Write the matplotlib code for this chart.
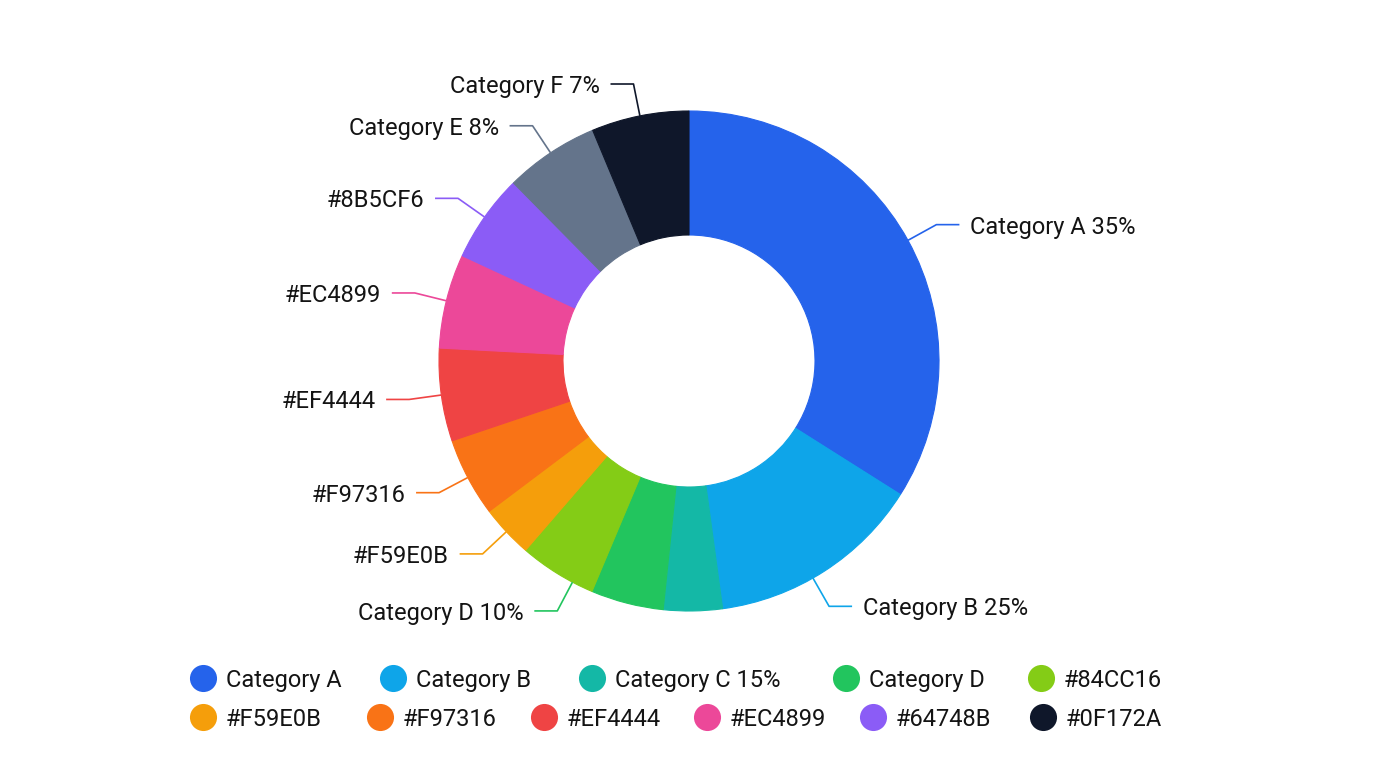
import matplotlib
matplotlib.use("Agg")
import matplotlib.pyplot as plt
import numpy as np

plt.rcParams['font.family'] = ['Roboto', 'DejaVu Sans']

# slice data (clockwise from 12 o'clock)
values = [34, 13.9, 3.8, 4.7, 5.0, 3.4, 5.1, 6.0, 6.1, 5.7, 6.1, 6.3]
colors = ['#2563EB', '#0EA5E9', '#14B8A6', '#22C55E', '#84CC16', '#F59E0B',
          '#F97316', '#EF4444', '#EC4899', '#8B5CF6', '#64748B', '#0F172A']
slice_labels = ['Category A 35%', 'Category B 25%', None, 'Category D 10%', None,
                '#F59E0B', '#F97316', '#EF4444', '#EC4899', '#8B5CF6',
                'Category E 8%', 'Category F 7%']

# legend entries
legend_labels = ['Category A', 'Category B', 'Category C 15%', 'Category D', '#84CC16',
                 '#F59E0B', '#F97316', '#EF4444', '#EC4899', '#64748B', '#0F172A']
legend_colors = ['#2563EB', '#0EA5E9', '#14B8A6', '#22C55E', '#84CC16',
                 '#F59E0B', '#F97316', '#EF4444', '#EC4899', '#8B5CF6', '#0F172A']

TEXT = '#141414'
W, H = 1376, 768
CX, CY, R = 689, 361, 250   # pie centre and radius in pixels

# legend layout: marker centre x (px) per row, row y (px)
legend_rows = [([203, 393, 592, 846, 1041], 678),
               ([203, 380, 544, 707, 873, 1043], 717)]


def px(x, y):
    # pixel (from top-left) -> data coords
    return (x - CX) / R, (CY - y) / R


fig = plt.figure(figsize=(W / 100, H / 100), dpi=100)
ax = fig.add_axes([0, 0, 1, 1])

wedges, _ = ax.pie(values, colors=colors, radius=1.0, startangle=90,
                   counterclock=False,
                   wedgeprops=dict(width=0.496, linewidth=0.8))
for w in wedges:
    w.set_edgecolor(w.get_facecolor())

ax.set_aspect('auto')
ax.set_xlim(-CX / R, (W - CX) / R)
ax.set_ylim(-(H - CY) / R, CY / R)
ax.axis('off')

# leader lines + labels
anchor_shift = {1: -3.0, 3: -13.4}
for i, w in enumerate(wedges):
    lab = slice_labels[i]
    if lab is None:
        continue
    ang = np.radians((w.theta1 + w.theta2) / 2 + anchor_shift.get(i, 0))
    c, s = np.cos(ang), np.sin(ang)
    x0, y0 = c * 1.0, s * 1.0
    x1, y1 = c * 1.13, s * 1.13
    side = 1 if c > 0 else -1
    x2 = x1 + side * 0.092
    ax.plot([x0, x1, x2], [y0, y1, y1], color=colors[i], lw=1.2,
            solid_capstyle='butt')
    ax.text(x2 + side * 0.042, y1, lab, ha='left' if side > 0 else 'right',
            va='center_baseline', fontsize=17, color=TEXT)

# legend
k = 0
for xs, ypx in legend_rows:
    for xm in xs:
        mx, my = px(xm, ypx)
        ax.plot([mx], [my], marker='o', markersize=19.5, linestyle='none',
                color=legend_colors[k], markeredgewidth=0)
        tx, ty = px(xm + 23, ypx)
        ax.text(tx, ty, legend_labels[k], fontsize=17, color=TEXT,
                ha='left', va='center_baseline')
        k += 1

fig.savefig('out.png', dpi=100, facecolor='white')
